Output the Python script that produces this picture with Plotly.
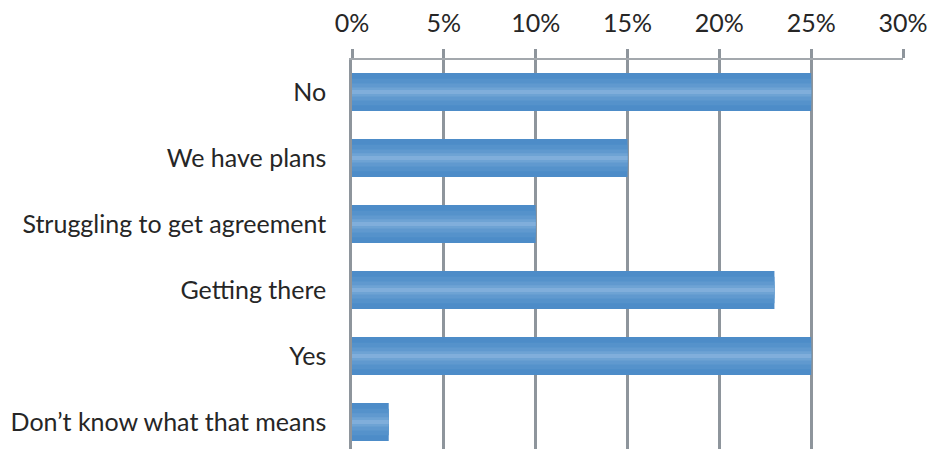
import plotly.graph_objects as go

categories = ["No", "We have plans", "Struggling to get agreement", "Getting there", "Yes", "Don\u2019t know what that means"]
values = [0.25, 0.15, 0.10, 0.23, 0.25, 0.02]
tick_vals = [0, 0.05, 0.10, 0.15, 0.20, 0.25, 0.30]
tick_text = ["0%", "5%", "10%", "15%", "20%", "25%", "30%"]

fig = go.Figure()

# layered bars to imitate the vertical gradient of the original
layers = [
    (0.576, "#4d8cc8"),
    (0.40, "#5592cb"),
    (0.26, "#6099cf"),
    (0.14, "#6ea3d4"),
    (0.06, "#80aedb"),
]
for w, c in layers:
    fig.add_trace(go.Bar(
        x=values, y=categories, orientation="h",
        width=w, marker=dict(color=c, line=dict(width=0)),
        hoverinfo="skip", showlegend=False,
    ))

fig.update_layout(
    width=929, height=449,
    margin=dict(l=352, r=26, t=60, b=0),
    paper_bgcolor="white", plot_bgcolor="white",
    barmode="overlay",
    font=dict(family="Lato", size=25, color="#262626"),
    xaxis=dict(
        side="top", range=[0, 0.30],
        tickvals=tick_vals, ticktext=tick_text,
        showgrid=True, gridcolor="#8e959c", gridwidth=2.5,
        showline=True, linecolor="#a3a8ad", linewidth=2,
        ticks="outside", ticklen=9, tickwidth=2.5, tickcolor="#8e959c",
        zeroline=False, ticklabelstandoff=7,
    ),
    yaxis=dict(
        categoryorder="array", categoryarray=categories,
        range=[5.41, -0.485],
        showgrid=False, showline=True, linecolor="#8e959c", linewidth=2.5,
        zeroline=False,
        ticks="", ticklabelstandoff=18,
    ),
)

fig.write_html("out.html")
